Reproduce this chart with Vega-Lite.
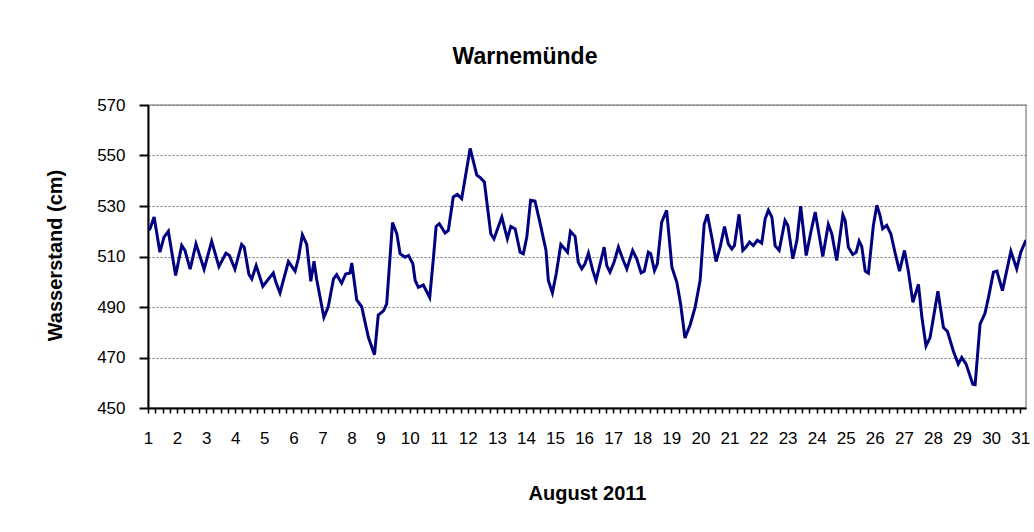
{
  "$schema": "https://vega.github.io/schema/vega-lite/v6.json",
  "width": 878,
  "height": 303,
  "autosize": {"type": "none"},
  "padding": {"left": 148, "top": 105, "right": 8, "bottom": 124},
  "background": "white",
  "title": {"text": "Warnemünde", "fontSize": 23, "font": "Liberation Sans", "fontWeight": "bold", "anchor": "middle", "dx": -62, "offset": 27, "color": "black"},
  "config": {"view": {"stroke": "#999999", "strokeWidth": 1.5}, "font": "Liberation Sans"},
  "data": {"values": [
    {"d": 1.03, "cm": 520.5}, {"d": 1.07, "cm": 521}, {"d": 1.21, "cm": 525.6}, {"d": 1.41, "cm": 511.7}, {"d": 1.55, "cm": 517.7}, {"d": 1.70, "cm": 520},
    {"d": 1.95, "cm": 502.5}, {"d": 2.16, "cm": 514.4}, {"d": 2.27, "cm": 512.4}, {"d": 2.45, "cm": 505}, {"d": 2.65, "cm": 515},
    {"d": 2.93, "cm": 505}, {"d": 3.19, "cm": 516}, {"d": 3.44, "cm": 506}, {"d": 3.68, "cm": 511.3}, {"d": 3.80, "cm": 510.4},
    {"d": 3.99, "cm": 505}, {"d": 4.22, "cm": 514.8}, {"d": 4.31, "cm": 513.7}, {"d": 4.47, "cm": 503}, {"d": 4.57, "cm": 501.1},
    {"d": 4.72, "cm": 506.4}, {"d": 4.95, "cm": 498.2}, {"d": 5.31, "cm": 503.5}, {"d": 5.40, "cm": 499.8}, {"d": 5.54, "cm": 495.6},
    {"d": 5.83, "cm": 508}, {"d": 6.06, "cm": 504.2}, {"d": 6.17, "cm": 509.1}, {"d": 6.31, "cm": 518.6}, {"d": 6.46, "cm": 514.8},
    {"d": 6.60, "cm": 500.2}, {"d": 6.71, "cm": 508.1}, {"d": 6.80, "cm": 501.1}, {"d": 7.05, "cm": 485.9}, {"d": 7.20, "cm": 490.1},
    {"d": 7.38, "cm": 501.1}, {"d": 7.49, "cm": 502.8}, {"d": 7.66, "cm": 499.4}, {"d": 7.80, "cm": 503.1}, {"d": 7.95, "cm": 503.5},
    {"d": 8.01, "cm": 507.4}, {"d": 8.18, "cm": 492.8}, {"d": 8.35, "cm": 490.1}, {"d": 8.58, "cm": 478}, {"d": 8.79, "cm": 471.1},
    {"d": 8.92, "cm": 486.8}, {"d": 9.10, "cm": 488.5}, {"d": 9.21, "cm": 491.2}, {"d": 9.41, "cm": 523.4}, {"d": 9.56, "cm": 519},
    {"d": 9.67, "cm": 511.1}, {"d": 9.84, "cm": 509.7}, {"d": 9.96, "cm": 510.4}, {"d": 10.11, "cm": 507.1}, {"d": 10.19, "cm": 500.5},
    {"d": 10.30, "cm": 497.8}, {"d": 10.47, "cm": 498.7}, {"d": 10.69, "cm": 493.8}, {"d": 10.82, "cm": 509.7}, {"d": 10.91, "cm": 521.9},
    {"d": 11.02, "cm": 523}, {"d": 11.22, "cm": 519.3}, {"d": 11.33, "cm": 520.3}, {"d": 11.50, "cm": 533.6}, {"d": 11.64, "cm": 534.6},
    {"d": 11.79, "cm": 532.9}, {"d": 12.08, "cm": 552.8}, {"d": 12.31, "cm": 542.2}, {"d": 12.42, "cm": 541.3}, {"d": 12.57, "cm": 539.5},
    {"d": 12.79, "cm": 519}, {"d": 12.90, "cm": 517}, {"d": 13.17, "cm": 525.6}, {"d": 13.36, "cm": 517}, {"d": 13.48, "cm": 521.9},
    {"d": 13.63, "cm": 520.9}, {"d": 13.80, "cm": 511.7}, {"d": 13.91, "cm": 511.1}, {"d": 14.03, "cm": 517.7}, {"d": 14.16, "cm": 532.3},
    {"d": 14.31, "cm": 532}, {"d": 14.49, "cm": 523}, {"d": 14.69, "cm": 512.4}, {"d": 14.77, "cm": 500.5}, {"d": 14.91, "cm": 495.6},
    {"d": 15.04, "cm": 503.1}, {"d": 15.20, "cm": 514.8}, {"d": 15.43, "cm": 511.7}, {"d": 15.53, "cm": 520}, {"d": 15.69, "cm": 518},
    {"d": 15.80, "cm": 507.7}, {"d": 15.92, "cm": 505.1}, {"d": 16.03, "cm": 507.1}, {"d": 16.15, "cm": 511.3}, {"d": 16.30, "cm": 504.4},
    {"d": 16.41, "cm": 500.5}, {"d": 16.55, "cm": 507.1}, {"d": 16.69, "cm": 513.7}, {"d": 16.78, "cm": 506.4}, {"d": 16.89, "cm": 503.8},
    {"d": 17.03, "cm": 507.7}, {"d": 17.18, "cm": 513.7}, {"d": 17.35, "cm": 508.4}, {"d": 17.47, "cm": 505.1}, {"d": 17.67, "cm": 512.4},
    {"d": 17.81, "cm": 509.1}, {"d": 17.96, "cm": 503.5}, {"d": 18.07, "cm": 504.2}, {"d": 18.21, "cm": 511.7}, {"d": 18.29, "cm": 511.1},
    {"d": 18.42, "cm": 504.4}, {"d": 18.52, "cm": 507.1}, {"d": 18.67, "cm": 523.6}, {"d": 18.84, "cm": 528.3}, {"d": 19.02, "cm": 505.8},
    {"d": 19.19, "cm": 499.8}, {"d": 19.32, "cm": 491.2}, {"d": 19.47, "cm": 477.7}, {"d": 19.65, "cm": 483}, {"d": 19.82, "cm": 489.9},
    {"d": 19.99, "cm": 500.5}, {"d": 20.13, "cm": 522.7}, {"d": 20.24, "cm": 526.7}, {"d": 20.39, "cm": 517.7}, {"d": 20.54, "cm": 508},
    {"d": 20.68, "cm": 513.7}, {"d": 20.83, "cm": 521.9}, {"d": 20.96, "cm": 515}, {"d": 21.08, "cm": 513}, {"d": 21.17, "cm": 514.3},
    {"d": 21.33, "cm": 526.7}, {"d": 21.46, "cm": 512.4}, {"d": 21.57, "cm": 513.7}, {"d": 21.69, "cm": 515.7}, {"d": 21.82, "cm": 514.3},
    {"d": 21.96, "cm": 516.4}, {"d": 22.11, "cm": 515.3}, {"d": 22.23, "cm": 525}, {"d": 22.34, "cm": 528.3}, {"d": 22.46, "cm": 525.6},
    {"d": 22.57, "cm": 514.3}, {"d": 22.71, "cm": 512.4}, {"d": 22.91, "cm": 524.3}, {"d": 23.01, "cm": 522.3}, {"d": 23.18, "cm": 509.1},
    {"d": 23.32, "cm": 516.4}, {"d": 23.45, "cm": 529.9}, {"d": 23.64, "cm": 510.4}, {"d": 23.80, "cm": 519.7}, {"d": 23.95, "cm": 527.6},
    {"d": 24.21, "cm": 510}, {"d": 24.40, "cm": 522.7}, {"d": 24.52, "cm": 519}, {"d": 24.69, "cm": 508.4}, {"d": 24.90, "cm": 526.5},
    {"d": 24.98, "cm": 524.3}, {"d": 25.09, "cm": 513.7}, {"d": 25.24, "cm": 510.8}, {"d": 25.36, "cm": 511.7}, {"d": 25.46, "cm": 516.1},
    {"d": 25.55, "cm": 514}, {"d": 25.67, "cm": 504.2}, {"d": 25.78, "cm": 503.4}, {"d": 25.95, "cm": 522.3}, {"d": 26.07, "cm": 530.3},
    {"d": 26.18, "cm": 526.2}, {"d": 26.27, "cm": 521}, {"d": 26.41, "cm": 522.3}, {"d": 26.55, "cm": 519}, {"d": 26.70, "cm": 511.3},
    {"d": 26.85, "cm": 504.2}, {"d": 27.02, "cm": 512.4}, {"d": 27.15, "cm": 504.4}, {"d": 27.31, "cm": 491.9}, {"d": 27.50, "cm": 498.9},
    {"d": 27.62, "cm": 485.9}, {"d": 27.76, "cm": 474.6}, {"d": 27.90, "cm": 477.9}, {"d": 28.17, "cm": 496.2}, {"d": 28.36, "cm": 481.9},
    {"d": 28.50, "cm": 480.3}, {"d": 28.70, "cm": 472.6}, {"d": 28.87, "cm": 467.4}, {"d": 28.99, "cm": 470}, {"d": 29.14, "cm": 467.4},
    {"d": 29.37, "cm": 459.4}, {"d": 29.45, "cm": 459.2}, {"d": 29.62, "cm": 483.2}, {"d": 29.79, "cm": 487.5}, {"d": 29.91, "cm": 493.8},
    {"d": 30.08, "cm": 503.8}, {"d": 30.20, "cm": 504.2}, {"d": 30.39, "cm": 496.5}, {"d": 30.68, "cm": 512.1}, {"d": 30.88, "cm": 505.1},
    {"d": 31.02, "cm": 511.7}, {"d": 31.17, "cm": 515.7}, {"d": 31.2, "cm": 516.5}
  ]},
  "mark": {"type": "line", "color": "#000080", "strokeWidth": 3, "strokeJoin": "miter", "clip": true},
  "encoding": {
    "x": {
      "field": "d", "type": "quantitative",
      "scale": {"domain": [1, 31.2], "nice": false, "zero": false},
      "axis": {
        "title": "August 2011",
        "values": [1,1.25,1.5,1.75,2,2.25,2.5,2.75,3,3.25,3.5,3.75,4,4.25,4.5,4.75,5,5.25,5.5,5.75,6,6.25,6.5,6.75,7,7.25,7.5,7.75,8,8.25,8.5,8.75,9,9.25,9.5,9.75,10,10.25,10.5,10.75,11,11.25,11.5,11.75,12,12.25,12.5,12.75,13,13.25,13.5,13.75,14,14.25,14.5,14.75,15,15.25,15.5,15.75,16,16.25,16.5,16.75,17,17.25,17.5,17.75,18,18.25,18.5,18.75,19,19.25,19.5,19.75,20,20.25,20.5,20.75,21,21.25,21.5,21.75,22,22.25,22.5,22.75,23,23.25,23.5,23.75,24,24.25,24.5,24.75,25,25.25,25.5,25.75,26,26.25,26.5,26.75,27,27.25,27.5,27.75,28,28.25,28.5,28.75,29,29.25,29.5,29.75,30,30.25,30.5,30.75,31],
        "labelExpr": "datum.value % 1 === 0 ? format(datum.value, 'd') : ''",
        "grid": false,
        "tickSize": 5, "tickWidth": 1.5, "tickColor": "black",
        "domainColor": "black", "domainWidth": 2,
        "labelFontSize": 17, "labelColor": "black", "labelPadding": 17,
        "labelOverlap": false, "labelFlush": false, "labelBound": false,
        "titleFontSize": 20, "titleFontWeight": "bold", "titleColor": "black",
        "titleY": 85, "titleBaseline": "middle"
      }
    },
    "y": {
      "field": "cm", "type": "quantitative",
      "scale": {"domain": [450, 570], "nice": false, "zero": false},
      "axis": {
        "title": "Wasserstand (cm)",
        "values": [450, 470, 490, 510, 530, 550, 570],
        "tickSize": 9, "tickWidth": 2, "tickColor": "black",
        "labelPadding": 14, "labelFontSize": 17, "labelColor": "black",
        "gridColor": "#777777", "gridDash": [2, 2], "gridWidth": 1,
        "domainColor": "black", "domainWidth": 2,
        "titleFontSize": 20, "titleFontWeight": "bold", "titleColor": "black",
        "titleX": -93, "titleY": 150, "titleBaseline": "middle", "titleAngle": -90, "titleAlign": "center"
      }
    }
  }
}
